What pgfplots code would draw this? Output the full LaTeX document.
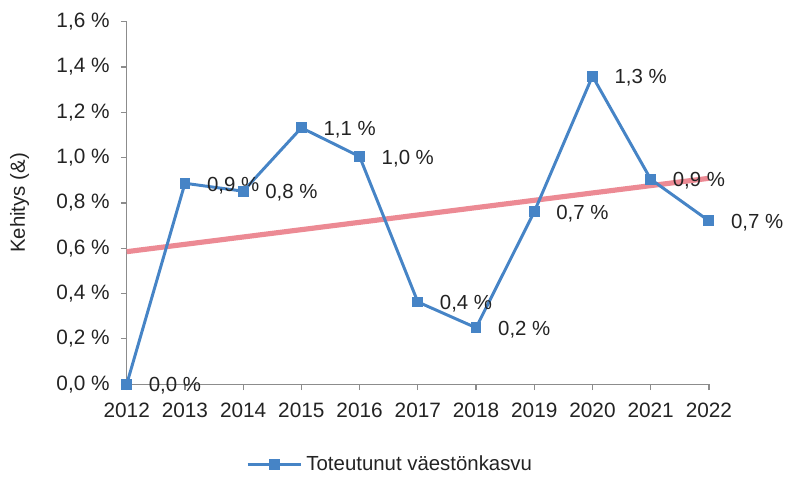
\documentclass[border=0pt]{standalone}
\usepackage{fontspec}
\setmainfont{Liberation Sans}
\usepackage{pgfplots}
\pgfplotsset{compat=1.18}
\definecolor{lineblue}{RGB}{70,132,198}
\definecolor{trendred}{RGB}{236,138,148}
\definecolor{axisgray}{RGB}{140,140,140}
\definecolor{txt}{RGB}{35,35,35}
\begin{document}
\fontsize{10.3}{12}\selectfont
\begin{tikzpicture}
\begin{axis}[
  at={(0,0)}, anchor=south west,
  scale only axis, width=294pt, height=183pt,
  xmin=2012, xmax=2022, ymin=0, ymax=1.6,
  clip=false,
  axis x line*=bottom, axis y line*=left,
  axis line style={draw=axisgray, line width=0.6pt, -},
  tick style={draw=axisgray, line width=0.6pt},
  tick align=outside, major tick length=3pt,
  xtick={2012,2013,...,2022},
  ytick={0,0.2,...,1.6},
  /pgf/number format/assume math mode=true,
  xticklabel={\pgfmathprintnumber[1000 sep={}]{\tick}},
  yticklabel={\pgfmathprintnumber[fixed,fixed zerofill,precision=1,use comma]{\tick}~\%},
  ticklabel style={font=\fontsize{10.5}{12}\selectfont, text=txt},
  xticklabel style={yshift=-3pt},
  yticklabel style={xshift=-2pt},
  ylabel={Kehitys (\&)},
  ylabel style={at={(axis description cs:-0.184,0.5)}, rotate=0, anchor=center, font=\fontsize{10.3}{12}\selectfont, text=txt},
  legend style={at={(axis description cs:0.454,-0.222)}, anchor=center, draw=none, fill=none, font=\fontsize{10.3}{12}\selectfont, text=txt},
  legend image code/.code={\draw[#1, mark repeat=2, mark phase=2] plot coordinates {(0pt,0pt) (13.5pt,0pt) (27pt,0pt)};},
]
\addplot[trendred, line width=2.6pt, forget plot] coordinates {(2012,0.585) (2022,0.909)};
\addplot[lineblue, line width=1.5pt, mark=square*, mark size=2pt, mark options={solid, fill=lineblue, draw=lineblue},
  nodes near coords, point meta=explicit symbolic,
  every node near coord/.append style={anchor=west, xshift=7pt, yshift=-1pt, font=\fontsize{10.3}{12}\selectfont, text=txt}]
coordinates {
 (2012,0.00) [0,0 \%]
 (2013,0.887) [0,9 \%]
 (2014,0.852) [0,8 \%]
 (2015,1.132) [1,1 \%]
 (2016,1.005) [1,0 \%]
 (2017,0.363) [0,4 \%]
 (2018,0.249) [0,2 \%]
 (2019,0.761) [0,7 \%]
 (2020,1.360) [1,3 \%]
 (2021,0.905) [0,9 \%]
 (2022,0.721) [0,7 \%]
};
\addlegendentry{Toteutunut väestönkasvu}
\end{axis}
\path[use as bounding box] (-64pt,-50pt) rectangle (331pt,194pt);
\end{tikzpicture}
\end{document}
